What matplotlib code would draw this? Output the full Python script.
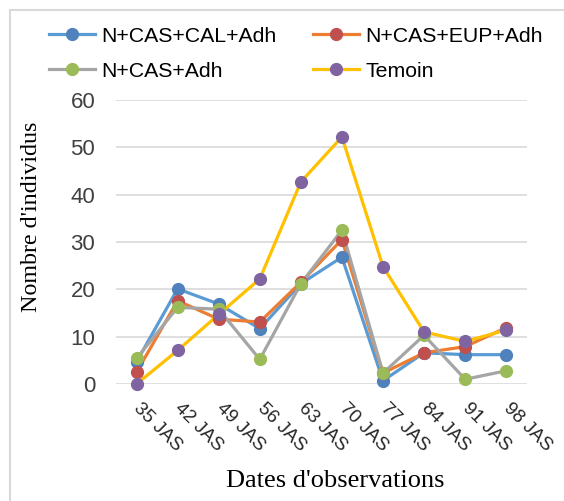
import matplotlib
matplotlib.use('Agg')
import matplotlib.pyplot as plt
from matplotlib.lines import Line2D
import numpy as np

# Data
dates = ['35 JAS', '42 JAS', '49 JAS', '56 JAS', '63 JAS',
         '70 JAS', '77 JAS', '84 JAS', '91 JAS', '98 JAS']
cal = [4.7, 20.1, 16.9, 11.7, 21.2, 26.8, 0.7, 6.6, 6.2, 6.2]
eup = [2.5, 17.6, 13.7, 13.1, 21.5, 30.5, 2.3, 6.6, 7.9, 11.9]
cas = [5.4, 16.2, 15.8, 5.2, 21.2, 32.5, 2.3, 10.3, 1.0, 2.8]
temoin = [0.0, 7.1, 14.7, 22.2, 42.7, 52.2, 24.8, 11.0, 9.0, 11.4]

series_names = ['N+CAS+CAL+Adh', 'N+CAS+EUP+Adh', 'N+CAS+Adh', 'Temoin']
series_values = [cal, eup, cas, temoin]
line_colors = ['#5B9BD5', '#ED7D31', '#A5A5A5', '#FFC000']
marker_colors = ['#4F81BD', '#C0504D', '#9BBB59', '#8064A2']

sans = 'Liberation Sans'
serif = 'Liberation Serif'

fig = plt.figure(figsize=(5.64, 5.01), dpi=100)
ax = fig.add_axes([0.2057, 0.2335, 0.934 - 0.2057, 0.8004 - 0.2335])

x = np.arange(len(dates))
handles = []
for name, vals, lc, mc in zip(series_names, series_values, line_colors, marker_colors):
    ax.plot(x, vals, color=lc, lw=2.3, zorder=3, clip_on=False)
    ax.plot(x, vals, ls='none', marker='o', ms=8.5, color=mc, zorder=4, clip_on=False)
    handles.append(Line2D([0], [0], color=lc, lw=2.3, marker='o', ms=8.5,
                          markerfacecolor=mc, markeredgecolor=mc, label=name))

ax.set_xlim(-0.5, len(dates) - 0.5)
ax.set_ylim(0, 60)
ax.set_yticks(np.arange(0, 61, 10))
ax.yaxis.grid(True, color='#D9D9D9', lw=1.2)
ax.set_axisbelow(True)
for s in ax.spines.values():
    s.set_visible(False)
ax.tick_params(length=0)
ax.tick_params(axis='y', pad=15)
for t in ax.get_yticklabels():
    t.set_fontfamily(sans)
    t.set_fontsize(16)
    t.set_color('#404040')

ax.set_xticks(x)
ax.set_xticklabels(dates, rotation=-45, ha='left', va='center',
                   rotation_mode='anchor', fontfamily=sans, fontsize=13.5,
                   color='#262626')
ax.tick_params(axis='x', pad=16)

fig.text(335 / 564, 1 - 481 / 501, "Dates d'observations", fontfamily=serif,
         fontsize=19, ha='center', va='center')
fig.text(32 / 564, 1 - 217 / 501, "Nombre d'individus", fontfamily=serif,
         fontsize=17.3, ha='center', va='center', rotation=90)

# row-wise legend order (matplotlib fills columns first)
order = [0, 2, 1, 3]
fig.legend(handles=[handles[i] for i in order], ncol=2, loc='upper left',
           bbox_to_anchor=(38 / 564, 1 - 16 / 501), frameon=False, borderpad=0,
           prop={'family': sans, 'size': 15.3}, handlelength=2.2,
           handletextpad=0.28, columnspacing=1.7, labelspacing=0.75)

# light border of the chart area
fig.add_artist(Line2D([9.5 / 564, 9.5 / 564], [0, 1 - 9.5 / 501],
                      transform=fig.transFigure, color='#D9D9D9', lw=1.5))
fig.add_artist(Line2D([9.5 / 564, 1], [1 - 9.5 / 501, 1 - 9.5 / 501],
                      transform=fig.transFigure, color='#D9D9D9', lw=1.5))

fig.savefig('out.png', dpi=100)
